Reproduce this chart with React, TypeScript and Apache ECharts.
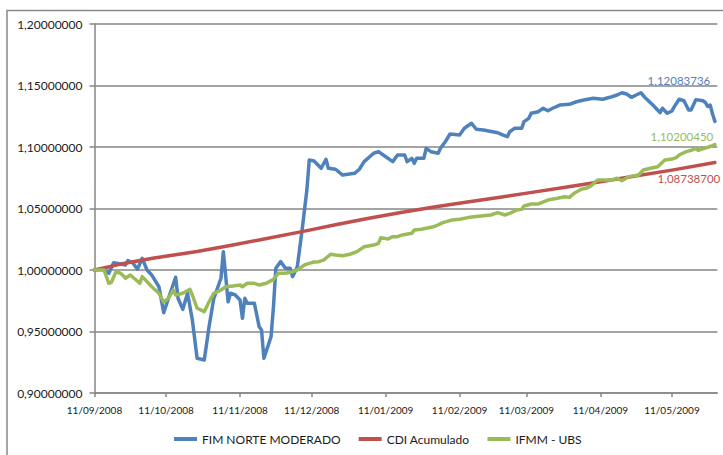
import React, { useEffect, useRef } from "react";
import * as echarts from "echarts";

const seriesNames = ["FIM NORTE MODERADO", "CDI Acumulado", "IFMM - UBS"];
const seriesColors = ["#4F81BD", "#C0504D", "#9BBB59"];
const tickLabels = [
  "11/09/2008", "11/10/2008", "11/11/2008", "11/12/2008", "11/01/2009",
  "11/02/2009", "11/03/2009", "11/04/2009", "11/05/2009",
];
const axisStart = "2008-09-11";
const axisEnd = "2009-05-30";

const fimNorte: [string, number][] = [
  ["2008-09-11", 1.0], ["2008-09-14", 1.0006], ["2008-09-17", 0.9973], ["2008-09-19", 1.0059],
  ["2008-09-22", 1.0049], ["2008-09-24", 1.0041], ["2008-09-25", 1.0076], ["2008-09-27", 1.0059],
  ["2008-09-29", 1.0006], ["2008-10-01", 1.0095], ["2008-10-03", 1.0], ["2008-10-05", 0.9959],
  ["2008-10-08", 0.9864], ["2008-10-10", 0.9653], ["2008-10-12", 0.977], ["2008-10-15", 0.9941],
  ["2008-10-16", 0.977], ["2008-10-18", 0.968], ["2008-10-20", 0.9811], ["2008-10-22", 0.9593],
  ["2008-10-24", 0.9282], ["2008-10-27", 0.9268], ["2008-10-29", 0.9539], ["2008-10-31", 0.977],
  ["2008-11-03", 0.9933], ["2008-11-04", 1.0149], ["2008-11-06", 0.9742], ["2008-11-07", 0.9811],
  ["2008-11-09", 0.9797], ["2008-11-11", 0.9756], ["2008-11-12", 0.9607], ["2008-11-13", 0.977],
  ["2008-11-14", 0.9729], ["2008-11-17", 0.9729], ["2008-11-19", 0.9539], ["2008-11-20", 0.9512],
  ["2008-11-21", 0.9282], ["2008-11-24", 0.9458], ["2008-11-25", 0.9702], ["2008-11-26", 1.0014],
  ["2008-11-28", 1.0068], ["2008-11-30", 1.0014], ["2008-12-02", 1.0014], ["2008-12-03", 0.9946],
  ["2008-12-05", 1.0027], ["2008-12-07", 1.0325], ["2008-12-09", 1.065], ["2008-12-10", 1.0894],
  ["2008-12-12", 1.0886], ["2008-12-15", 1.0827], ["2008-12-17", 1.09], ["2008-12-18", 1.0827],
  ["2008-12-21", 1.0819], ["2008-12-24", 1.0772], ["2008-12-29", 1.0786], ["2008-12-31", 1.0819],
  ["2009-01-02", 1.0881], ["2009-01-06", 1.0949], ["2009-01-08", 1.0962], ["2009-01-10", 1.0935],
  ["2009-01-14", 1.0881], ["2009-01-16", 1.0935], ["2009-01-19", 1.0935], ["2009-01-20", 1.0881],
  ["2009-01-22", 1.0908], ["2009-01-23", 1.0867], ["2009-01-24", 1.0908], ["2009-01-27", 1.0908],
  ["2009-01-28", 1.0989], ["2009-01-30", 1.0962], ["2009-02-02", 1.0949], ["2009-02-03", 1.0989],
  ["2009-02-05", 1.1043], ["2009-02-07", 1.1106], ["2009-02-11", 1.1098], ["2009-02-13", 1.1152],
  ["2009-02-16", 1.1193], ["2009-02-18", 1.1144], ["2009-02-21", 1.1138], ["2009-02-27", 1.1116],
  ["2009-03-01", 1.1098], ["2009-03-03", 1.1084], ["2009-03-04", 1.1124], ["2009-03-06", 1.1152],
  ["2009-03-09", 1.1152], ["2009-03-10", 1.1206], ["2009-03-12", 1.1233], ["2009-03-13", 1.1274],
  ["2009-03-16", 1.1287], ["2009-03-18", 1.1315], ["2009-03-20", 1.1295], ["2009-03-22", 1.1315],
  ["2009-03-25", 1.1341], ["2009-03-29", 1.1347], ["2009-04-01", 1.1368], ["2009-04-04", 1.1382],
  ["2009-04-08", 1.1396], ["2009-04-12", 1.1388], ["2009-04-15", 1.1404], ["2009-04-18", 1.1423],
  ["2009-04-20", 1.1441], ["2009-04-22", 1.1431], ["2009-04-24", 1.1404], ["2009-04-26", 1.1423],
  ["2009-04-28", 1.1441], ["2009-04-30", 1.1396], ["2009-05-03", 1.1341], ["2009-05-05", 1.1301],
  ["2009-05-06", 1.1279], ["2009-05-07", 1.1315], ["2009-05-09", 1.1274], ["2009-05-11", 1.1293],
  ["2009-05-12", 1.1328], ["2009-05-14", 1.1388], ["2009-05-16", 1.1376], ["2009-05-18", 1.1301],
  ["2009-05-19", 1.1301], ["2009-05-21", 1.1385], ["2009-05-24", 1.1376], ["2009-05-25", 1.1362],
  ["2009-05-26", 1.1329], ["2009-05-27", 1.1341], ["2009-05-28", 1.1268], ["2009-05-29", 1.12083736],
];

const cdiAcumulado: [string, number][] = [
  ["2008-09-11", 1.0], ["2008-09-22", 1.0048], ["2008-10-06", 1.0098], ["2008-10-24", 1.015],
  ["2008-11-08", 1.0203], ["2008-11-19", 1.0244], ["2008-12-08", 1.0316], ["2008-12-21", 1.0368],
  ["2009-01-04", 1.042], ["2009-01-18", 1.047], ["2009-02-01", 1.0515], ["2009-02-15", 1.0555],
  ["2009-02-28", 1.0592], ["2009-03-14", 1.0633], ["2009-03-28", 1.0675], ["2009-04-11", 1.0718],
  ["2009-04-25", 1.0762], ["2009-05-11", 1.0812], ["2009-05-29", 1.087387],
];

const ifmmUbs: [string, number][] = [
  ["2008-09-11", 1.0], ["2008-09-15", 1.0], ["2008-09-17", 0.9892], ["2008-09-18", 0.9897],
  ["2008-09-20", 0.9986], ["2008-09-22", 0.9973], ["2008-09-24", 0.9933], ["2008-09-26", 0.9959],
  ["2008-09-30", 0.9892], ["2008-10-01", 0.9946], ["2008-10-05", 0.9864], ["2008-10-08", 0.9811],
  ["2008-10-10", 0.974], ["2008-10-12", 0.977], ["2008-10-14", 0.9837], ["2008-10-15", 0.9797],
  ["2008-10-18", 0.9811], ["2008-10-21", 0.9843], ["2008-10-22", 0.9797], ["2008-10-24", 0.9689],
  ["2008-10-27", 0.9661], ["2008-10-29", 0.9742], ["2008-10-31", 0.9811], ["2008-11-03", 0.9837],
  ["2008-11-05", 0.9864], ["2008-11-08", 0.987], ["2008-11-11", 0.9878], ["2008-11-12", 0.9864],
  ["2008-11-14", 0.9892], ["2008-11-17", 0.9892], ["2008-11-19", 0.9878], ["2008-11-22", 0.9892],
  ["2008-11-25", 0.9924], ["2008-11-27", 0.9973], ["2008-11-30", 0.9973], ["2008-12-03", 0.9986],
  ["2008-12-05", 1.0], ["2008-12-08", 1.0041], ["2008-12-10", 1.0054], ["2008-12-12", 1.0065],
  ["2008-12-14", 1.0068], ["2008-12-16", 1.0081], ["2008-12-19", 1.0128], ["2008-12-21", 1.0122],
  ["2008-12-24", 1.0116], ["2008-12-27", 1.0128], ["2008-12-30", 1.0149], ["2009-01-02", 1.0189],
  ["2009-01-06", 1.0203], ["2009-01-08", 1.0217], ["2009-01-09", 1.0263], ["2009-01-12", 1.0252],
  ["2009-01-14", 1.0271], ["2009-01-16", 1.0271], ["2009-01-18", 1.0285], ["2009-01-22", 1.0298],
  ["2009-01-23", 1.0325], ["2009-01-26", 1.0331], ["2009-01-30", 1.0347], ["2009-02-01", 1.0358],
  ["2009-02-04", 1.0385], ["2009-02-08", 1.0407], ["2009-02-11", 1.0413], ["2009-02-15", 1.0428],
  ["2009-02-20", 1.0439], ["2009-02-24", 1.0447], ["2009-02-27", 1.0466], ["2009-03-02", 1.0447],
  ["2009-03-04", 1.0461], ["2009-03-07", 1.0488], ["2009-03-09", 1.0493], ["2009-03-10", 1.052],
  ["2009-03-13", 1.0537], ["2009-03-16", 1.0537], ["2009-03-20", 1.0569], ["2009-03-24", 1.0583],
  ["2009-03-27", 1.0596], ["2009-03-29", 1.0591], ["2009-03-31", 1.0624], ["2009-04-03", 1.0656],
  ["2009-04-05", 1.0664], ["2009-04-07", 1.0683], ["2009-04-09", 1.0718], ["2009-04-10", 1.0732],
  ["2009-04-14", 1.0732], ["2009-04-16", 1.0732], ["2009-04-18", 1.0746], ["2009-04-20", 1.0726],
  ["2009-04-23", 1.0759], ["2009-04-27", 1.0772], ["2009-04-29", 1.0813], ["2009-05-02", 1.0827],
  ["2009-05-05", 1.084], ["2009-05-08", 1.0894], ["2009-05-11", 1.0902], ["2009-05-13", 1.0916],
  ["2009-05-14", 1.0935], ["2009-05-17", 1.0962], ["2009-05-19", 1.0973], ["2009-05-21", 1.0989],
  ["2009-05-22", 1.0972], ["2009-05-24", 1.0986], ["2009-05-26", 1.0998], ["2009-05-28", 1.1011],
  ["2009-05-29", 1.1020045],
];

const seriesData = [fimNorte, cdiAcumulado, ifmmUbs];
const endLabelOffsets: [number, number][] = [[-36, -41], [-26, 16], [-33, -8]];

const FONT = "Lato, 'Open Sans', sans-serif";

function isoToTs(s: string): number {
  const [y, m, d] = s.split("-").map(Number);
  return Date.UTC(y, m - 1, d);
}
function brToTs(s: string): number {
  const [d, m, y] = s.split("/").map(Number);
  return Date.UTC(y, m - 1, d);
}
function pad(n: number): string {
  return n < 10 ? "0" + n : String(n);
}
function fmtDate(v: number): string {
  const d = new Date(Math.round(v));
  return pad(d.getUTCDate()) + "/" + pad(d.getUTCMonth() + 1) + "/" + d.getUTCFullYear();
}
function fmtNum(v: number): string {
  return v.toFixed(8).replace(".", ",");
}

export default function App() {
  const ref = useRef<HTMLDivElement>(null);
  useEffect(() => {
    if (!ref.current) return;
    const chart = echarts.init(ref.current, null, { renderer: "svg" });
    const tickValues = tickLabels.map(brToTs);
    const option: any = {
      animation: false,
      backgroundColor: "#ffffff",
      textStyle: { fontFamily: FONT },
      graphic: [
        {
          type: "rect",
          shape: { x: 7, y: 10.5, width: 760, height: 500 },
          style: { fill: "none", stroke: "#8a8a8a", lineWidth: 1.5 },
          silent: true,
          z: -1,
        },
      ],
      grid: { left: 94.5, top: 24, right: 5.7, bottom: 62, containLabel: false },
      legend: {
        left: 174,
        top: 433,
        padding: 0,
        itemGap: 18,
        itemWidth: 23,
        itemHeight: 4,
        icon: "rect",
        textStyle: { fontFamily: FONT, fontSize: 12, color: "#1a1a1a" },
        data: seriesNames,
      },
      xAxis: {
        type: "value",
        min: isoToTs(axisStart),
        max: isoToTs(axisEnd),
        axisLine: { show: true, lineStyle: { color: "#868686", width: 1.5 } },
        axisTick: {
          show: true,
          length: 4,
          lineStyle: { color: "#868686", width: 1.5 },
          customValues: tickValues,
        },
        axisLabel: {
          customValues: tickValues,
          formatter: (v: number) => fmtDate(v),
          fontFamily: FONT,
          fontSize: 10,
          color: "#1a1a1a",
          margin: 12,
          hideOverlap: false,
        },
        splitLine: { show: false },
      },
      yAxis: {
        type: "value",
        min: 0.9,
        max: 1.2,
        interval: 0.05,
        axisLine: { show: true, lineStyle: { color: "#868686", width: 1.5 } },
        axisTick: { show: true, length: 5, lineStyle: { color: "#868686", width: 1.5 } },
        axisLabel: {
          formatter: (v: number) => fmtNum(v),
          fontFamily: FONT,
          fontSize: 12,
          color: "#1a1a1a",
          margin: 12,
        },
        splitLine: { show: true, lineStyle: { color: "#868686", width: 1.5 } },
      },
      series: seriesNames.map((name, i) => {
        const data = seriesData[i].map(([d, v]) => [isoToTs(d), v]);
        const last = data[data.length - 1];
        return {
          name,
          type: "line",
          data,
          showSymbol: false,
          symbol: "none",
          color: seriesColors[i],
          lineStyle: { color: seriesColors[i], width: 3.5, cap: "round", join: "round" },
          z: 2 + i,
          markPoint: {
            symbol: "circle",
            symbolSize: 1,
            silent: true,
            itemStyle: { color: "rgba(0,0,0,0)" },
            label: {
              show: true,
              position: "inside",
              offset: endLabelOffsets[i],
              formatter: () => fmtNum(last[1] as number),
              color: seriesColors[i],
              fontFamily: FONT,
              fontSize: 11.5,
            },
            data: [{ coord: last }],
          },
        };
      }),
    };
    chart.setOption(option);
    return () => chart.dispose();
  }, []);
  return (
    <div
      ref={ref}
      style={{ position: "absolute", left: 0, top: 0, width: 723, height: 455 }}
    />
  );
}
